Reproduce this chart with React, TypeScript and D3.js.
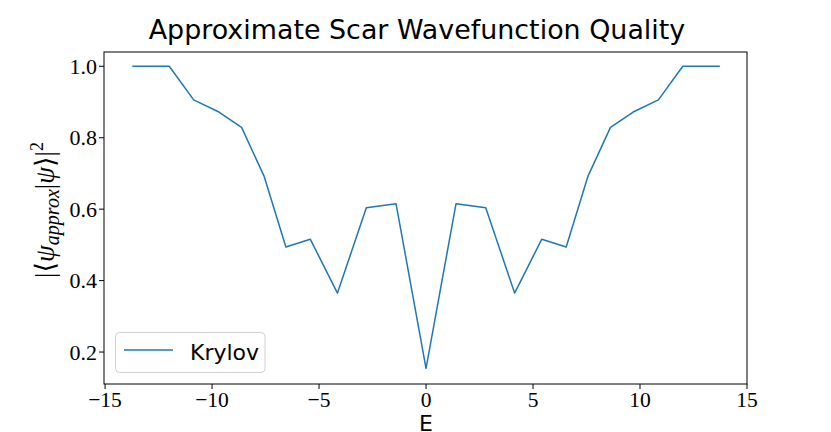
import React from "react";
import * as d3 from "d3";

const energies = [-13.73, -12.0, -10.86, -9.68, -8.62, -7.56, -6.55, -5.41, -4.14, -2.79, -1.4, 0, 1.4, 2.79, 4.14, 5.41, 6.55, 7.56, 8.62, 9.68, 10.86, 12.0, 13.73];
const krylov = [1.0, 1.0, 0.906, 0.872, 0.829, 0.691, 0.494, 0.516, 0.365, 0.604, 0.615, 0.154, 0.615, 0.604, 0.365, 0.516, 0.494, 0.691, 0.829, 0.872, 0.906, 1.0, 1.0];
const xTicks = [-15, -10, -5, 0, 5, 10, 15];
const yTicks = [0.2, 0.4, 0.6, 0.8, 1.0];

const W = 831, H = 432;
const L = 104, R = 747, T = 52, B = 384;

export default function App() {
  const x = d3.scaleLinear().domain([-15.05, 15.0]).range([L, R]);
  const y = d3.scaleLinear().domain([0.1105, 1.04]).range([B, T]);
  const pts: [number, number][] = energies.map((e, i) => [e, krylov[i]]);
  const line = d3.line<[number, number]>().x(d => x(d[0])).y(d => y(d[1]));
  const serif = "'Liberation Serif', 'DejaVu Serif', serif";
  const sans = "'DejaVu Sans', sans-serif";
  return (
    <svg width={W} height={H} style={{ position: "absolute", left: 0, top: 0, background: "#fff" }}>
      <text x={417} y={38.5} textAnchor="middle" fontFamily={sans} fontSize={26.9} fill="#000">Approximate Scar Wavefunction Quality</text>
      <path d={line(pts) || ""} fill="none" stroke="#1f77b4" strokeWidth={1.5} strokeLinejoin="round" />
      <rect x={L} y={T} width={R - L} height={B - T} fill="none" stroke="#000" strokeWidth={1} />
      {xTicks.map(t => (
        <g key={"x" + t}>
          <line x1={x(t)} x2={x(t)} y1={B} y2={B + 5} stroke="#000" strokeWidth={1} />
          <text x={x(t)} y={B + 23} textAnchor="middle" fontFamily={serif} fontSize={21.5} fill="#000">{t < 0 ? "\u2212" + Math.abs(t) : String(t)}</text>
        </g>
      ))}
      {yTicks.map(t => (
        <g key={"y" + t}>
          <line x1={L - 5} x2={L} y1={y(t)} y2={y(t)} stroke="#000" strokeWidth={1} />
          <text x={L - 7} y={y(t) + 7.5} textAnchor="end" fontFamily={serif} fontSize={22} fill="#000">{t.toFixed(1)}</text>
        </g>
      ))}
      <text x={426} y={431} textAnchor="middle" fontFamily={sans} fontSize={22} fill="#000">E</text>
      <g transform="translate(54,210) rotate(-90)">
        <text x={0} y={0} textAnchor="middle" fontFamily={serif} fontSize={27} fill="#000">
          <tspan>|⟨</tspan>
          <tspan fontStyle="italic">ψ</tspan>
          <tspan fontStyle="italic" fontSize={20} dy={5}>approx</tspan>
          <tspan dy={-5}>|</tspan>
          <tspan fontStyle="italic">ψ</tspan>
          <tspan>⟩|</tspan>
          <tspan fontSize={18} dy={-11}>2</tspan>
        </text>
      </g>
      <rect x={115.5} y={332.5} width={149.5} height={40} rx={4} fill="#fff" fillOpacity={0.8} stroke="#d0d0d0" strokeWidth={1} />
      <line x1={124} x2={173} y1={350} y2={350} stroke="#1f77b4" strokeWidth={1.5} />
      <text x={190} y={360} fontFamily={sans} fontSize={22} fill="#000">Krylov</text>
    </svg>
  );
}
